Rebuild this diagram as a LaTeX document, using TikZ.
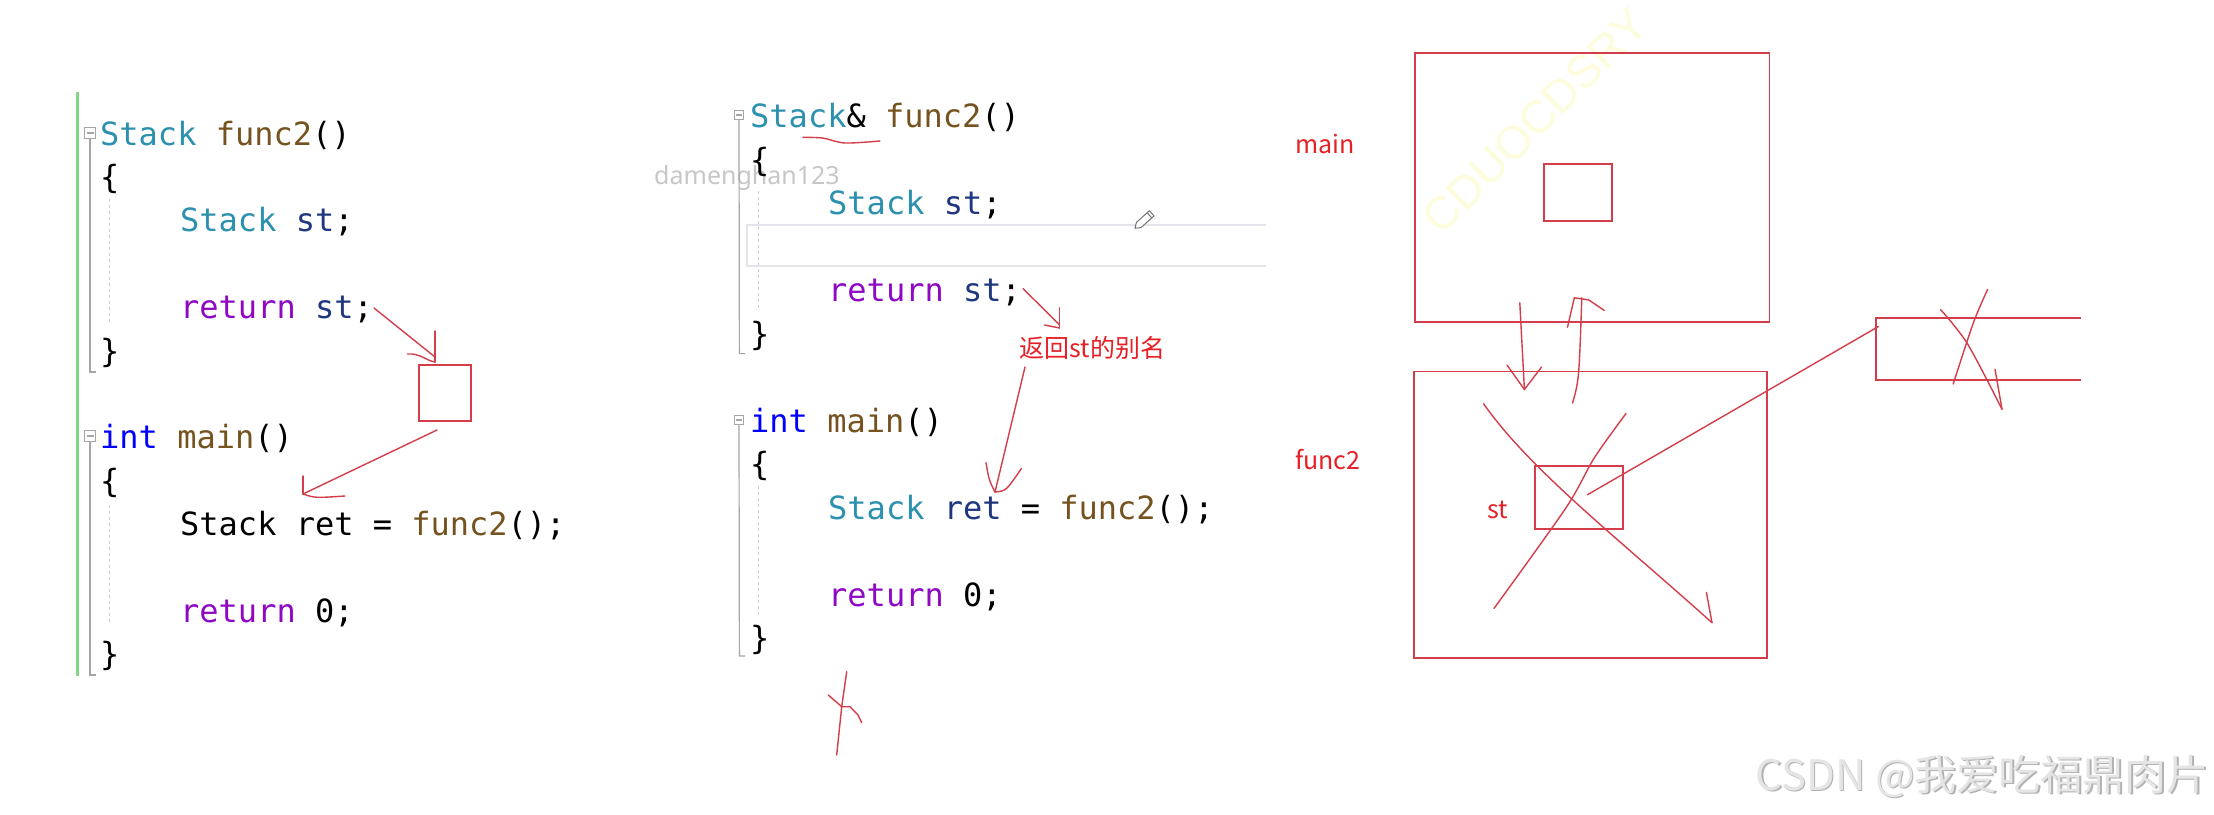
\documentclass[tikz,border=0pt]{standalone}
\usepackage{fontspec}
\setmonofont{DejaVu Sans Mono}
\newfontfamily\cjkfont{Noto Sans CJK SC}
\newfontfamily\markfont{Noto Sans}
\newfontfamily\wmfont{Liberation Sans}
\usetikzlibrary{positioning}

\definecolor{vstype}{RGB}{43,145,175}
\definecolor{vsfunc}{RGB}{116,83,31}
\definecolor{vsvar}{RGB}{31,55,127}
\definecolor{vsret}{RGB}{143,8,196}
\definecolor{vsint}{RGB}{0,0,255}
\definecolor{penred}{RGB}{212,62,74}
\definecolor{inkred}{RGB}{230,32,38}
\definecolor{foldgray}{RGB}{165,165,165}
\definecolor{hlgray}{RGB}{228,228,234}
\definecolor{margingreen}{RGB}{128,214,128}
\definecolor{wmyellow}{RGB}{253,253,222}

\newcommand{\cty}[1]{\textcolor{vstype}{#1}}
\newcommand{\cfn}[1]{\textcolor{vsfunc}{#1}}
\newcommand{\cvar}[1]{\textcolor{vsvar}{#1}}
\newcommand{\cret}[1]{\textcolor{vsret}{#1}}
\newcommand{\cint}[1]{\textcolor{vsint}{#1}}

\begin{document}
\begin{tikzpicture}[x=1pt, y=-1pt,
  code/.style={anchor=base west, inner sep=0pt, font=\ttfamily\fontsize{32}{38}\selectfont},
  foldbox/.style={draw=foldgray, line width=1pt, minimum size=11pt, inner sep=0pt},
  foldline/.style={draw=foldgray, line width=1.2pt},
  guide/.style={draw=foldgray!55, line width=1pt, dash pattern=on 3pt off 3pt},
  boxframe/.style={draw=penred, line width=1.8pt, inner sep=0pt},
  redink/.style={draw=penred, line width=1.4pt, line cap=round, line join=round},
  redtag/.style={text=inkred, inner sep=0pt, font=\cjkfont\fontsize{25}{30}\selectfont}]

  % Canvas
  \fill[white] (0,0) rectangle (2214,814);
  \useasboundingbox (0,0) rectangle (2214,814);

  % Column positions
  \def\lx{100}   % left code, column 0
  \def\lxi{180}  % left code, indented
  \def\mx{750}   % middle code, column 0
  \def\mxi{828}  % middle code, indented

  % Watermarks
  \node[text=black!22, inner sep=0pt, font=\markfont\fontsize{25}{30}\selectfont]
    (wmname) at (747,178) {damenghan123};
  \node[text=wmyellow, inner sep=0pt, rotate=45, font=\wmfont\fontsize{46}{50}\selectfont]
    (wmdiag) at (1535,121) {CDUOCDSRY};
  \node[text=black!30, inner sep=0pt, anchor=east, font=\cjkfont\fontsize{42}{46}\selectfont]
    at (2210.5,777.5) {CSDN @我爱吃福鼎肉片};
  \node[text=black!10, inner sep=0pt, anchor=east, font=\cjkfont\fontsize{42}{46}\selectfont]
    (wmcsdn) at (2209,776) {CSDN @我爱吃福鼎肉片};

  % Left editor: margin and folding
  \draw[margingreen, line width=2.5pt] (77.3,92) -- (77.3,676);
  \node[foldbox] (lfoldA) at (90,133) {};
  \node[foldbox] (lfoldB) at (90,436) {};
  \draw[foldline] ([xshift=2.5pt]lfoldA.west) -- ([xshift=-2.5pt]lfoldA.east);
  \draw[foldline] ([xshift=2.5pt]lfoldB.west) -- ([xshift=-2.5pt]lfoldB.east);
  \draw[foldline] (lfoldA.south) -- (90,372) -- (96,372);
  \draw[foldline] (lfoldB.south) -- (90,675) -- (96,675);
  \draw[guide] (109,199) -- (109,325);
  \draw[guide] (109,505) -- (109,623);

  % Left editor: code
  \node[code] (lsig)  at (\lx,145)    {\cty{Stack} \cfn{func2}()};
  \node[code] (lob)   at (\lx,188.4)  {\{};
  \node[code] (ldecl) at (\lxi,231.8) {\cty{Stack} \cvar{st};};
  \node[code] (lrst)  at (\lxi,318.6) {\cret{return} \cvar{st};};
  \node[code] (lcb)   at (\lx,362)    {\}};
  \node[code] (lmain) at (\lx,448.8)  {\cint{int} \cfn{main}()};
  \node[code] (lob2)  at (\lx,492.2)  {\{};
  \node[code] (lret)  at (\lxi,535.6) {Stack ret = \cfn{func2}();};
  \node[code] (lrz)   at (\lxi,622.4) {\cret{return} 0;};
  \node[code] (lcb2)  at (\lx,665.8)  {\}};

  % Left editor: copy of st
  \node[boxframe, minimum width=52.4pt, minimum height=55.6pt] (lcopy) at (444.8,392.8) {};
  \draw[redink] (374,308) -- (435,357);
  \draw[redink] (435,331) -- (435,362);
  \draw[redink] (407.5,354) .. controls (420,353) and (427,361) .. (435,362);
  \draw[redink] (437,430) -- (303,494);
  \draw[redink] (303,476) -- (303,494);
  \draw[redink] (303,494) .. controls (315,498) .. (345,496);

  % Middle editor: folding and current line
  \node[foldbox, minimum size=9pt] (mfoldA) at (739,115) {};
  \node[foldbox, minimum size=9pt] (mfoldB) at (739,420) {};
  \draw[foldline] ([xshift=2pt]mfoldA.west) -- ([xshift=-2pt]mfoldA.east);
  \draw[foldline] ([xshift=2pt]mfoldB.west) -- ([xshift=-2pt]mfoldB.east);
  \draw[foldline] (mfoldA.south) -- (739.4,353.6) -- (745,353.6);
  \draw[foldline] (mfoldB.south) -- (739.4,656) -- (745,656);
  \draw[guide] (758,191) -- (758,310);
  \draw[guide] (758,486) -- (758,614);
  \draw[hlgray, line width=2pt] (1265.6,224.5) -- (746.7,224.5) -- (746.7,266) -- (1265.6,266);

  % Middle editor: code
  \node[code] (msig)  at (\mx,127.5)  {\cty{Stack}\& \cfn{func2}()};
  \node[code] (mob)   at (\mx,171)    {\{};
  \node[code] (mdecl) at (\mxi,214.5) {\cty{Stack} \cvar{st};};
  \node[code] (mrst)  at (\mxi,301.5) {\cret{return} \cvar{st};};
  \node[code] (mcb)   at (\mx,345)    {\}};
  \node[code] (mmain) at (\mx,432)    {\cint{int} \cfn{main}()};
  \node[code] (mob2)  at (\mx,475.5)  {\{};
  \node[code] (mret)  at (\mxi,519)   {\cty{Stack} \cvar{ret} = \cfn{func2}();};
  \node[code] (mrz)   at (\mxi,606)   {\cret{return} 0;};
  \node[code] (mcb2)  at (\mx,649.5)  {\}};

  % Pencil cursor
  \draw[black!55, line width=1pt, line join=round, fill=white]
    (1135,228.3) -- (1141.0,227.6) -- (1154.0,215.9) -- (1149.4,210.7) -- (1136.4,222.4) -- cycle;
  \draw[black!55, line width=1pt] (1151.8,217.9) -- (1147.1,212.7);

  % Middle editor: reference annotations
  \draw[redink] plot[smooth] coordinates {(803,137.4) (822.5,138) (845,143) (880,141)};
  \draw[redink] (1023,288.6) -- (1059.7,325);
  \draw[redink] (1059.7,307.7) -- (1059.7,328);
  \draw[redink] (1044.4,325) -- (1059.7,328);
  \node[redtag] (alias) at (1092.3,348) {返回st的别名};
  \draw[redink] (1025,367) -- (995,492);
  \draw[redink] (986,462.7) .. controls (989,480) .. (995,492);
  \draw[redink] (995,492) .. controls (1006,491) .. (1021.5,468.4);
  \draw[redink] (846.7,671.7) -- (841.7,706.7) -- (836.7,755);
  \draw[redink] (828.3,695) -- (841.7,706.7) -- (850,706.7) -- (858,715) -- (861.7,722.7);

  % Right: stack frames
  \node[redtag, anchor=west] (mainlab) at (1295,144) {main};
  \node[redtag, anchor=west] (funclab) at (1295,460) {func2};
  \node[boxframe, minimum width=354.7pt, minimum height=269.2pt] (mainf) at (1592.2,187.4) {};
  \node[boxframe, minimum width=68pt, minimum height=56.8pt] (mainv) at (1578,192.4) {};
  \node[boxframe, minimum width=353pt, minimum height=286.2pt] (funcf) at (1590.1,514.5) {};
  \node[boxframe, minimum width=87.6pt, minimum height=63pt] (stv) at (1578.8,497.5) {};
  \node[redtag] (stlab) at (1497.5,510) {st};
  \draw[boxframe] (2081,317.6) -- (1875.7,317.6) -- (1875.7,379.8) -- (2081,379.8);

  % Right: call and return
  \draw[redink] (1519.8,302.8) -- (1524.4,389.5);
  \draw[redink] (1507,365) -- (1524.4,389.5) -- (1541.6,367);
  \draw[redink] (1572.6,403) .. controls (1579,380) .. (1581.8,297.8);
  \draw[redink] (1567.5,327.2) -- (1574.3,297.8) -- (1588.7,299.9) -- (1604.2,310.4);

  % Right: destroyed frame
  \draw[redink] (1483.6,403.8) .. controls (1530,470) and (1620,540) .. (1712,622.7);
  \draw[redink] (1706.4,592.4) -- (1712,622.7);
  \draw[redink] plot[smooth] coordinates {(1626,413.5) (1594.4,457.7) (1565.7,508.2) (1494,608.4)};
  \coordinate (stref) at (1587.5,494.7);
  \coordinate (tmpin) at (1878.6,326.4);
  \draw[redink] (stref) -- (tmpin);
  \draw[redink] plot[smooth] coordinates {(1940.6,309.6) (1967.6,344) (2002,409.3)};
  \draw[redink] (1995,369.3) -- (2002,409.3);
  \draw[redink] plot[smooth] coordinates {(1987.6,289.4) (1973.3,323) (1953.2,384)};
\end{tikzpicture}
\end{document}
